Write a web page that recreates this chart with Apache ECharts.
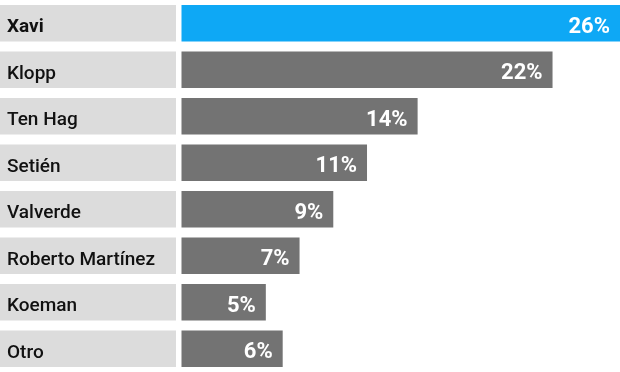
<!DOCTYPE html>
<html><head><meta charset="utf-8">
<script src="https://cdn.jsdelivr.net/npm/echarts@6/dist/echarts.min.js"></script>
<style>html,body{margin:0;padding:0;background:#fff}#c{width:620px;height:372px}</style>
</head><body><div id="c"></div>
<script>
var categories = ['Xavi','Klopp','Ten Hag','Setién','Valverde','Roberto Martínez','Koeman','Otro'];
var values = [26,22,14,11,9,7,5,6];
var highlight = 'Xavi';

var chart = echarts.init(document.getElementById('c'), null, {renderer:'canvas'});
var gridTop = -1.2, gridH = 374.9;
chart.setOption({
  animation:false,
  backgroundColor:'#fff',
  grid:[
    {left:0, width:176, top:gridTop, height:gridH},
    {left:181.5, right:0, top:gridTop, height:gridH}
  ],
  xAxis:[
    {gridIndex:0, type:'value', min:0, max:1, show:false},
    {gridIndex:1, type:'value', min:0, max:26, show:false}
  ],
  yAxis:[
    {gridIndex:0, type:'category', data:categories, inverse:true, show:false},
    {gridIndex:1, type:'category', data:categories, inverse:true, show:false}
  ],
  series:[
    {type:'bar', xAxisIndex:0, yAxisIndex:0, barCategoryGap:'22%',
     data:categories.map(function(c){
       var o = {value:1, name:c};
       if(c===highlight){o.label={fontWeight:'bold'};}
       return o;
     }),
     itemStyle:{color:'#dcdcdc'},
     label:{show:true, position:'insideLeft', distance:7, offset:[0,4],
       formatter:function(p){return p.name;},
       fontFamily:'Roboto', fontSize:19, color:'#111', fontWeight:500}
    },
    {type:'bar', xAxisIndex:1, yAxisIndex:1, barCategoryGap:'22%',
     data:values.map(function(v,i){return {value:v, itemStyle:{color: categories[i]===highlight?'#0ea8f5':'#737373'}};}),
     label:{show:true, position:'insideRight', distance:10, offset:[0,4],
       formatter:function(p){return p.value+'%';},
       fontFamily:'Roboto', fontSize:22, fontWeight:'bold', color:'#fff'}
    }
  ]
});
</script></body></html>
